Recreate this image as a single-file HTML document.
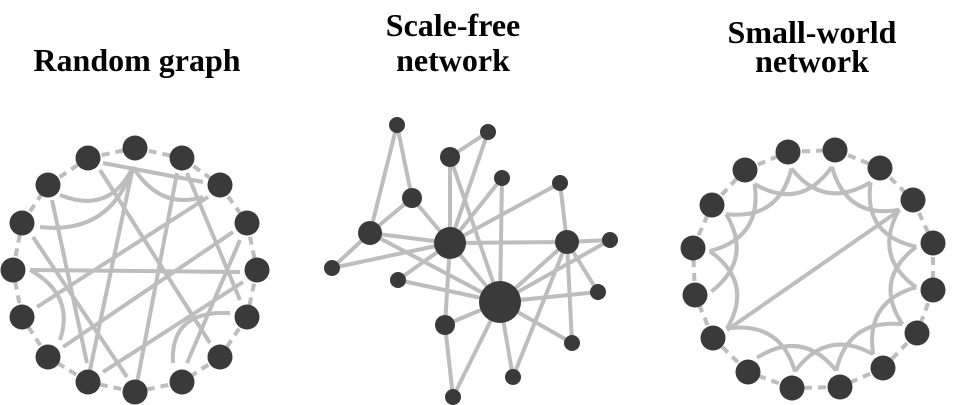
<!DOCTYPE html>
<html><head><meta charset="utf-8"><style>
html,body{margin:0;padding:0;background:#fff;}
svg{display:block}
text{font-family:"Liberation Serif",serif;font-weight:bold;font-size:32px;fill:#000;text-anchor:middle}
</style></head><body>
<svg id="s" width="959" height="405" viewBox="0 0 959 405" xmlns="http://www.w3.org/2000/svg">
<text x="137" y="71">Random graph</text>
<text x="453" y="36">Scale-free</text>
<text x="453" y="71">network</text>
<text x="812" y="43">Small-world</text>
<text x="812" y="72">network</text>
<g id="rg" stroke="#bdbdbd" stroke-width="4" fill="none">
<path d="M103 163L203 182M133 167L90 370M100 170L210 343M177 173L137 383M187 173L240 300M208 197L37 307M233 232L63 347M30 270L240 272M243 282L103 372M240 240L187 363M52 200L87 363M33 237L127 377"/>
<path d="M60 195Q110 215 133 167M40 227Q110 235 133 167M133 167Q160 210 203 197M30 270Q75 295 60 340M230 313Q170 310 173 363"/>
</g>
<g id="sf" stroke="#bdbdbd" stroke-width="4" fill="none">
<path d="M397 125L370 233M397 125L412 198M488 132L450 157M488 132L450 243M450 157L450 243M450 157L500 302M502 178L450 243M502 178L500 302M560 183L450 243M560 183L567 242M412 198L370 233M412 198L450 243M370 233L450 243M370 233L332 268M370 233L500 302M332 268L450 243M398 280L450 243M398 280L500 302M450 243L567 242M450 243L500 302M450 243L445 325M567 242L500 302M567 242L610 240M567 242L513 377M567 242L572 343M567 242L598 292M610 240L500 302M598 292L500 302M500 302L445 325M500 302L572 343M500 302L453 397M445 325L453 397M500 302L513 377"/>
</g>
<g id="sw" stroke="#bdbdbd" stroke-width="4" fill="none"></g>
<g id="dash" stroke="#bdbdbd" stroke-width="4" fill="none" stroke-dasharray="8 6"></g>
<g id="nodes" fill="#3a3a3a"></g>
</svg>
<script>
var NS="http://www.w3.org/2000/svg";
function el(p,t,a){var e=document.createElementNS(NS,t);for(var k in a)e.setAttribute(k,a[k]);document.getElementById(p).appendChild(e);return e;}
var rgN=[[135,148],[182,158],[220,185],[247,223],[257,270],[247,317],[220,357],[182,382],[135,392],[88,382],[48,357],[22,317],[13,270],[22,223],[48,185],[88,158]];
var swN=[[835,150],[880,168],[913,200],[933,243],[933,290],[917,333],[883,368],[840,387],[792,388],[748,372],[713,338],[695,295],[693,248],[712,205],[745,170],[788,152]];
function ring(N){for(var i=0;i<N.length;i++){var a=N[i],b=N[(i+1)%N.length];el("dash","line",{x1:a[0],y1:a[1],x2:b[0],y2:b[1]});}}
ring(rgN);ring(swN);
var cx=813,cy=270;
function inner(p,f){return [cx+(p[0]-cx)*f,cy+(p[1]-cy)*f];}
for(var i=0;i<16;i++){
 if(i==9)continue;
 var a=swN[i],b=swN[(i+2)%16],m=swN[(i+1)%16];
 var p=inner(a,0.86),q=inner(b,0.86),c=inner(m,0.5);
 el("sw","path",{d:"M"+p[0]+" "+p[1]+"Q"+c[0]+" "+c[1]+" "+q[0]+" "+q[1]});
}
el("sw","line",{x1:900,y1:210,x2:727,y2:330});
rgN.concat(swN).forEach(function(p){el("nodes","circle",{cx:p[0],cy:p[1],r:12.5});});
[[397,125,8],[488,132,8],[450,157,10],[502,178,8],[560,183,8],[412,198,10],[370,233,12],[450,243,16],[567,242,12],[610,240,8],[332,268,8],[398,280,8],[500,302,21],[598,292,8],[445,325,10],[572,343,8],[513,377,8],[453,397,8]].forEach(function(p){el("nodes","circle",{cx:p[0],cy:p[1],r:p[2]});});
</script>
</body></html>
